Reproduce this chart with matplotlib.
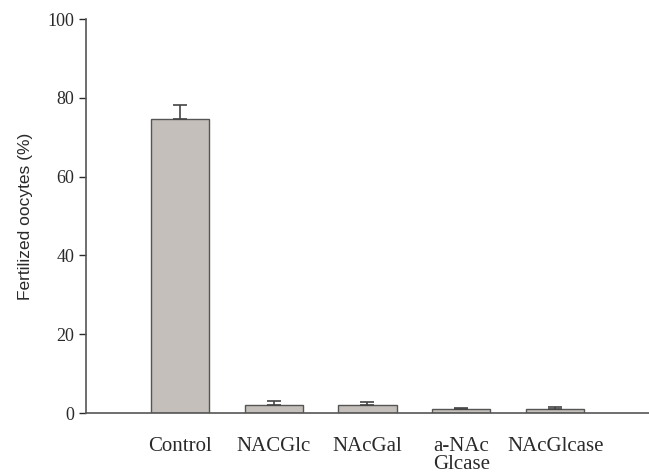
import matplotlib.pyplot as plt

# data
groups = ['Control', 'NACGlc', 'NAcGal', 'a-NAc\nGlcase', 'NAcGlcase']
fertilized = [74.5, 2.0, 2.0, 1.0, 1.0]
err_up = [3.8, 1.0, 0.8, 0.3, 0.6]

plt.rcParams['font.family'] = ['Liberation Serif', 'DejaVu Serif']

fig = plt.figure(figsize=(6.49, 4.75), dpi=100)
ax = fig.add_axes([0.1325, 0.1305, 0.8675, 0.8295])

x = list(range(len(groups)))
ax.bar(x, fertilized, width=0.62, color='#c4bfba', edgecolor='#555555', linewidth=1.0,
       yerr=[[0] * len(err_up), err_up], error_kw=dict(ecolor='#444444', elinewidth=1.2, capsize=5, capthick=1.2))

ax.set_xlim(-1.0, 5.0)
ax.set_ylim(0, 100)
ax.set_yticks([0, 20, 40, 60, 80, 100])
ax.set_xticks(x)
ax.set_xticklabels(groups, fontsize=15, color='#2a2a2a', linespacing=0.92)
ax.tick_params(axis='x', length=0, pad=17)
ax.tick_params(axis='y', direction='out', length=5, labelsize=13, colors='#2a2a2a', width=1)
ax.set_ylabel('Fertilized oocytes (%)', fontsize=12.5, color='#2a2a2a', labelpad=10,
              family=['Liberation Sans', 'DejaVu Sans'])

ax.spines['top'].set_visible(False)
ax.spines['right'].set_visible(False)
ax.spines['left'].set_color('#555555')
ax.spines['bottom'].set_color('#555555')
ax.spines['left'].set_linewidth(1.2)
ax.spines['bottom'].set_linewidth(1.2)

plt.savefig('out.png', dpi=100)
